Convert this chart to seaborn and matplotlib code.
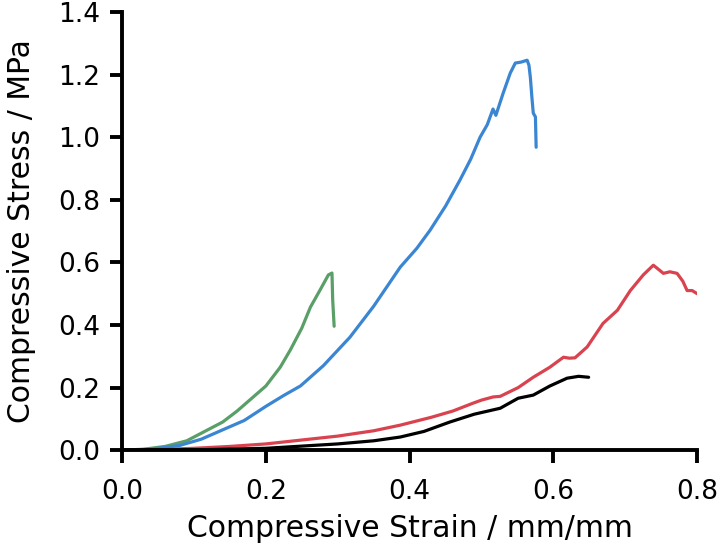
import numpy as np
import pandas as pd
import matplotlib
matplotlib.use("Agg")
import matplotlib.pyplot as plt
import seaborn as sns

# curves
green_x = [0, 0.03, 0.06, 0.09, 0.11, 0.14, 0.16, 0.18, 0.20, 0.22, 0.234, 0.25, 0.262, 0.275, 0.287, 0.292, 0.293, 0.295]
green_y = [0, 0.003, 0.012, 0.03, 0.054, 0.09, 0.125, 0.165, 0.205, 0.265, 0.32, 0.39, 0.457, 0.51, 0.56, 0.566, 0.48, 0.396]

blue_x = [0, 0.04, 0.08, 0.11, 0.14, 0.17, 0.20, 0.225, 0.248, 0.252, 0.28, 0.317, 0.35, 0.387, 0.41, 0.4285,
          0.45, 0.47, 0.485, 0.498, 0.508, 0.516, 0.52, 0.53, 0.540, 0.547, 0.555, 0.5635, 0.566, 0.568, 0.570,
          0.572, 0.575, 0.576]
blue_y = [0, 0.003, 0.015, 0.035, 0.065, 0.095, 0.14, 0.175, 0.205, 0.213, 0.27, 0.361, 0.46, 0.585, 0.645, 0.703,
          0.78, 0.863, 0.93, 1.0, 1.04, 1.09, 1.07, 1.14, 1.205, 1.237, 1.24, 1.246, 1.23, 1.19, 1.13,
          1.077, 1.065, 0.968]

red_x = [0, 0.05, 0.1, 0.15, 0.2, 0.248, 0.3, 0.35, 0.387, 0.43, 0.46, 0.488, 0.5, 0.516, 0.526, 0.551, 0.572,
         0.595, 0.614, 0.622, 0.63, 0.647, 0.669, 0.689, 0.707, 0.725, 0.739, 0.745, 0.753, 0.762, 0.772, 0.78,
         0.786, 0.793, 0.8]
red_y = [0, 0.002, 0.006, 0.012, 0.02, 0.032, 0.045, 0.062, 0.08, 0.105, 0.125, 0.15, 0.16, 0.17, 0.172, 0.2, 0.233,
         0.265, 0.297, 0.294, 0.295, 0.33, 0.405, 0.447, 0.51, 0.56, 0.591, 0.58, 0.565, 0.57, 0.565, 0.54,
         0.51, 0.51, 0.50]

black_x = [0, 0.1, 0.2, 0.3, 0.35, 0.387, 0.42, 0.456, 0.49, 0.526, 0.551, 0.572, 0.595, 0.619, 0.635, 0.649]
black_y = [0, 0.001, 0.006, 0.02, 0.03, 0.042, 0.06, 0.09, 0.115, 0.134, 0.166, 0.176, 0.205, 0.23, 0.236, 0.233]

curves = {"green": (green_x, green_y), "blue": (blue_x, blue_y),
          "red": (red_x, red_y), "black": (black_x, black_y)}
colors = {"green": "#5a9e68", "blue": "#3b86d2", "red": "#d9434f", "black": "#000000"}

frames = []
for name, (xs, ys) in curves.items():
    frames.append(pd.DataFrame({"strain": xs, "stress": ys, "sample": name}))
df = pd.concat(frames, ignore_index=True)

sns.set_style("ticks")
plt.rcParams['font.family'] = ['DejaVu Sans']

fig = plt.figure(figsize=(7.18, 5.47), dpi=100)
ax = fig.add_axes([0.170, 0.177, 0.801, 0.801])

sns.lineplot(data=df, x="strain", y="stress", hue="sample", palette=colors,
             sort=False, estimator=None, linewidth=2.3, legend=False, ax=ax)

ticks_x = np.arange(0, 0.81, 0.2)
ticks_y = np.arange(0, 1.41, 0.2)
ax.set_xlim(0, 0.8)
ax.set_ylim(0, 1.4)
ax.set_xticks(ticks_x)
ax.set_yticks(ticks_y)
ax.set_xticklabels([f"{v:.1f}" for v in ticks_x])
ax.set_yticklabels([f"{v:.1f}" for v in ticks_y])
ax.set_xlabel("Compressive Strain / mm/mm", fontsize=21.5, color="black")
ax.set_ylabel("Compressive Stress / MPa", fontsize=21.5, color="black")
ax.xaxis.set_label_coords(0.5, -0.146)
ax.yaxis.set_label_coords(-0.150, 0.5)
ax.tick_params(labelsize=19, width=2.8, length=9, color="black", labelcolor="black")
ax.tick_params(axis="x", pad=12)
ax.tick_params(axis="y", pad=6.5)
for side in ["left", "bottom"]:
    ax.spines[side].set_linewidth(2.8)
    ax.spines[side].set_color("black")
sns.despine(ax=ax)

fig.savefig("out.png", dpi=100)
